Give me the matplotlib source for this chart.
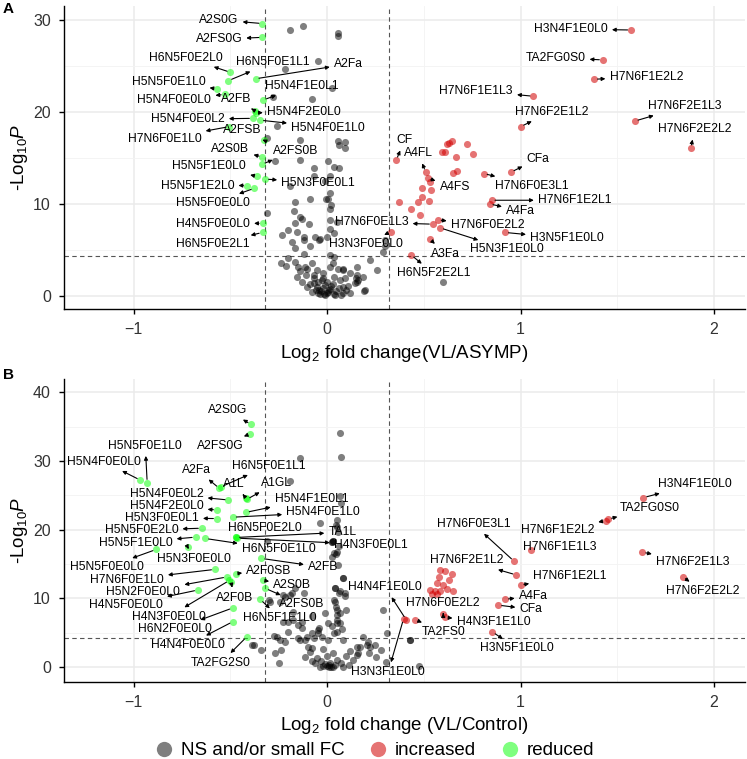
import numpy as np
import matplotlib
matplotlib.use("Agg")
import matplotlib.pyplot as plt
from matplotlib.lines import Line2D

plt.rcParams['font.family'] = ['Liberation Sans', 'DejaVu Sans']
plt.rcParams['mathtext.fontset'] = 'custom'
plt.rcParams['mathtext.rm'] = 'Liberation Sans'
plt.rcParams['mathtext.it'] = 'Liberation Sans:italic'

# ---------------------------------------------------------------- panel A data
# not significant / small fold change
a_ns_x = [-0.19, -0.126, 0.055, 0.058, -0.045, -0.22, 0.024, -0.28, -0.08, -0.26, -0.31, -0.14,
          0.058, 0.093, 0.064, 0.093, -0.27, -0.14, -0.07, 0.007, 0.035, -0.07, 0.016, -0.01,
          -0.19, 0.016, -0.088, -0.005, -0.165, 0.016, 0.02, -0.31, -0.17, -0.13, -0.14, 0.016,
          0.05, -0.093, -0.165, 0.016, 0.033, -0.2, -0.157, -0.12, -0.234, -0.036, -0.002, -0.12,
          -0.062, -0.04, -0.18, -0.088, -0.165, -0.12, 0.016, 0.30, 0.30, 0.29,
          0.03, -0.21, -0.105, -0.07, -0.02, 0.084, 0.15, 0.22, -0.20, -0.165, -0.148, -0.114,
          -0.079, -0.053, -0.019, 0.016, 0.033, 0.067, 0.153, 0.188, 0.145, -0.157, -0.13, -0.07,
          -0.045, -0.01, -0.105, -0.066, -0.041, -0.016, 0.033, 0.082, 0.119, 0.156, 0.193, 0.6,
          -0.03, -0.02, 0.0, 0.01, -0.05, 0.02, -0.01, 0.005, -0.035, 0.045, -0.06, 0.0, 0.03,
          -0.08, 0.06, -0.025, 0.04, -0.045, 0.015, 0.07, -0.09, 0.1, -0.11, 0.11, -0.14, 0.12,
          -0.24, 0.26, 0.084, 0.153, 0.162, 0.093, 0.058, 0.033, 0.084, 0.196, 0.007, 0.064]
a_ns_y = [28.9, 29.3, 28.6, 28.3, 25.5, 24.7, 22.6, 21.6, 21.4, 18.5, 17.2, 17.0,
          16.8, 16.7, 16.4, 16.1, 14.7, 14.8, 13.9, 14.7, 14.05, 13.0, 13.0, 12.5,
          11.9, 11.2, 10.5, 10.5, 10.2, 9.5, 9.9, 9.0, 9.2, 8.4, 8.55, 8.26,
          8.0, 7.8, 7.9, 7.25, 6.8, 7.2, 7.0, 6.1, 6.6, 6.2, 6.45, 6.45,
          6.45, 6.1, 5.9, 5.4, 5.2, 4.6, 4.5, 6.1, 5.4, 4.8,
          3.55, 3.26, 2.9, 2.3, 1.9, 2.9, 2.0, 3.9, 4.1, 3.73, 3.2, 3.2,
          3.55, 2.8, 2.45, 3.2, 2.1, 1.74, 3.2, 2.1, 1.4, 2.1, 1.55, 1.9,
          1.55, 1.2, 1.0, 1.38, 0.65, 0.22, 0.22, 0.36, 0.29, 1.56, 0.58, 1.56,
          0.5, 0.9, 0.3, 0.6, 1.0, 1.1, 0.1, 0.4, 0.2, 0.5, 0.7, 1.5, 1.3,
          0.4, 0.9, 1.7, 0.05, 0.35, 0.8, 0.15, 1.3, 0.7, 2.3, 1.1, 2.7, 2.5,
          3.6, 2.8, 2.83, 2.28, 1.74, 1.92, 2.9, 4.27, 1.0, 0.65, 10.5, 13.9]

# increased, unlabeled
a_inc_x = [0.622, 0.632, 0.648, 0.722, 0.593, 0.61, 0.665, 0.753, 0.67, 0.65, 0.53, 0.49,
           0.536, 0.49, 0.47, 0.525, 0.374, 0.436, 0.48]
a_inc_y = [16.5, 16.6, 16.8, 16.5, 15.6, 15.6, 15.1, 15.4, 13.6, 13.4, 12.4, 11.7,
           11.5, 10.8, 10.2, 10.3, 10.2, 9.5, 8.8]

# increased, labeled
a_up_names = ['H3N4F1E0L0', 'TA2FG0S0', 'H7N6F1E2L2', 'H7N6F1E1L3', 'H7N6F2E1L2', 'H7N6F2E1L3',
              'H7N6F2E2L2', 'CF', 'A4FL', 'A4FS', 'CFa', 'H7N6F0E3L1', 'H7N6F1E2L1', 'A4Fa',
              'H7N6F0E1L3', 'H3N3F0E0L0', 'H7N6F0E2L2', 'H5N3F1E0L0', 'H3N5F1E0L0', 'A3Fa',
              'H6N5F2E2L1']
a_up_x = [1.571, 1.425, 1.38, 1.066, 1.00, 1.59, 1.88, 0.357, 0.51, 0.52, 0.95, 0.81, 0.85, 0.84,
          0.546, 0.33, 0.572, 0.584, 0.92, 0.53, 0.434]
a_up_y = [28.9, 25.65, 23.55, 21.7, 18.4, 19.0, 16.05, 14.75, 13.45, 12.8, 13.45, 13.3, 10.4, 10.0,
          7.8, 7.0, 8.26, 7.4, 6.9, 6.2, 4.46]

# reduced, labeled
a_down_names = ['A2S0G', 'A2FS0G', 'H6N5F0E2L0', 'H6N5F0E1L1', 'A2Fa', 'H5N5F0E1L0', 'H5N4F0E0L0',
                'A2FB', 'H5N4F1E0L1', 'H5N4F2E0L0', 'H5N4F0E0L2', 'H5N4F0E1L0', 'H7N6F0E1L0',
                'A2FSB', 'A2S0B', 'A2FS0B', 'H5N5F1E0L0', 'H5N3F0E0L1', 'H5N5F1E2L0', 'H5N5F0E0L0',
                'H4N5F0E0L0', 'H6N5F0E2L1']
a_down_x = [-0.335, -0.335, -0.50, -0.51, -0.37, -0.57, -0.53, -0.372, -0.33, -0.37, -0.384, -0.346,
            -0.506, -0.325, -0.335, -0.337, -0.363, -0.32, -0.415, -0.376, -0.334, -0.334]
a_down_y = [29.6, 28.1, 24.3, 23.4, 23.6, 22.5, 21.9, 20.1, 21.3, 19.9, 19.3, 19.1,
            18.4, 16.9, 15.1, 14.3, 13.0, 12.7, 12.0, 11.7, 7.9, 6.9]

# label placement (repelled text positions)
a_label_pos = {
    'H3N4F1E0L0': (1.26, 29.0), 'TA2FG0S0': (1.18, 25.9), 'H7N6F1E2L2': (1.65, 23.8),
    'H7N6F1E1L3': (0.77, 22.3), 'H7N6F2E1L2': (1.16, 20.0), 'H7N6F2E1L3': (1.85, 20.6),
    'H7N6F2E2L2': (1.90, 18.1), 'CF': (0.40, 16.9), 'A4FL': (0.47, 15.5), 'A4FS': (0.66, 11.8),
    'CFa': (1.09, 14.9), 'H7N6F0E3L1': (1.06, 12.0), 'H7N6F1E2L1': (1.28, 10.4),
    'A4Fa': (1.0, 9.25), 'H7N6F0E1L3': (0.23, 8.0), 'H3N3F0E0L0': (0.20, 5.6),
    'H7N6F0E2L2': (0.83, 7.7), 'H5N3F1E0L0': (0.93, 5.07), 'H3N5F1E0L0': (1.24, 6.25),
    'A3Fa': (0.61, 4.6), 'H6N5F2E2L1': (0.55, 2.45),
    'A2S0G': (-0.56, 30.0), 'A2FS0G': (-0.56, 27.9), 'H6N5F0E2L0': (-0.73, 25.9),
    'H6N5F0E1L1': (-0.28, 25.4), 'A2Fa': (0.11, 25.2), 'H5N5F0E1L0': (-0.82, 23.3),
    'H5N4F0E0L0': (-0.79, 21.3), 'A2FB': (-0.47, 21.4), 'H5N4F1E0L1': (-0.13, 22.8),
    'H5N4F2E0L0': (-0.12, 20.0), 'H5N4F0E0L2': (-0.72, 19.2), 'H5N4F0E1L0': (0.005, 18.3),
    'H7N6F0E1L0': (-0.84, 17.1), 'A2FSB': (-0.44, 18.0), 'A2S0B': (-0.50, 16.0),
    'A2FS0B': (-0.165, 15.8), 'H5N5F1E0L0': (-0.61, 14.1), 'H5N3F0E0L1': (-0.046, 12.3),
    'H5N5F1E2L0': (-0.67, 12.0), 'H5N5F0E0L0': (-0.59, 10.1), 'H4N5F0E0L0': (-0.59, 7.8),
    'H6N5F0E2L1': (-0.59, 5.6),
}

# ---------------------------------------------------------------- panel B data
b_ns_x = [0.067, 0.072, -0.14, -0.19, 0.067, 0.07, 0.05, 0.047, -0.036, 0.053, 0.058, 0.03,
          0.024, -0.31, 0.064, 0.047, 0.05, 0.024, 0.058, 0.084, 0.04, 0.067, 0.064, 0.093,
          0.033, -0.01, 0.047, 0.067, 0.05, 0.053, 0.007, -0.04, -0.226, -0.30, -0.174, -0.15,
          -0.079, -0.165, -0.217, -0.19, -0.295, 0.29, -0.13, -0.2, 0.31, 0.024, 0.05, 0.076,
          -0.045, -0.027, -0.07, -0.105, -0.26, -0.243, -0.18, -0.12, -0.174, -0.226, -0.13,
          -0.045, 0.007, -0.14, -0.08, 0.033, 0.05, 0.1, 0.17, 0.21, 0.25, 0.153, -0.38, -0.243,
          -0.27, 0.033, 0.084, 0.04, 0.093, 0.04, 0.05, 0.067, 0.22, 0.43, 0.084, 0.153, 0.188,
          -0.386, -0.342, -0.275, -0.238, -0.218, -0.201, -0.152, -0.25, -0.115, -0.09, -0.061,
          -0.036, 0.008, 0.032, 0.081, 0.111, 0.136, 0.161, 0.205, 0.218, 0.254, 0.279, 0.303,
          0.426, 0.476, -0.115, -0.078, -0.02, 0.0, 0.01, -0.01, 0.02, 0.015, -0.03, 0.04, 0.05,
          -0.05, 0.0, 0.03, -0.02, 0.07, -0.08, 0.1, -0.1, 0.12, 0.024, 0.03]
b_ns_y = [34.0, 30.6, 30.4, 27.1, 24.9, 23.9, 21.4, 20.7, 21.0, 20.4, 19.7, 18.3,
          18.2, 18.4, 17.6, 16.4, 16.8, 16.0, 14.85, 12.9, 11.45, 11.0, 10.7, 10.3,
          9.75, 7.9, 8.8, 7.8, 8.3, 6.85, 6.35, 5.6, 10.5, 9.75, 6.85, 6.1,
          7.4, 11.45, 10.2, 10.5, 9.5, 8.3, 5.6, 6.6, 4.9, 5.9, 5.1, 5.5,
          4.9, 4.4, 4.2, 4.4, 4.4, 9.5, 10.7, 10.7, 8.05, 6.6, 6.6,
          5.4, 3.9, 3.9, 2.7, 4.9, 6.35, 8.3, 2.95, 3.7, 3.2, 1.75, 3.2, 3.9,
          2.0, 16.55, 12.9, 11.45, 10.7, 9.5, 7.6, 6.35, 2.95, 3.9, 3.9, 2.95, 4.4,
          3.2, 2.4, 4.5, 2.4, 3.7, 5.1, 4.2, 0.53, 1.5, 2.2, 0.53,
          0.05, 0.05, 0.0, 0.05, 0.29, 1.02, 2.0, 3.2, 2.0, 1.5, 2.5, 0.78,
          3.9, 0.15, 3.9, 4.9, 0.2, 0.1, 0.3, 0.5, 0.05, 0.6, 0.8, 0.3, 1.0,
          1.3, 1.6, 2.0, 2.6, 0.6, 0.9, 1.6, 2.9, 2.3, 18.2, 18.3]

b_inc_x = [0.584, 0.61, 0.644, 0.58, 0.632, 0.567, 0.60, 0.53, 0.558, 0.584, 0.618, 0.653,
           0.54, 0.567]
b_inc_y = [14.1, 14.0, 13.5, 13.1, 12.7, 12.2, 11.9, 11.2, 11.0, 11.0, 11.3, 11.0,
           10.6, 10.6]

b_up_names = ['H3N4F1E0L0', 'TA2FG0S0', 'H7N6F1E2L2', 'H7N6F0E3L1', 'H7N6F1E1L3', 'H7N6F2E1L2',
              'H7N6F2E1L3', 'H7N6F1E2L1', 'H7N6F2E2L2', 'A4Fa', 'CFa', 'H4N4F1E0L0',
              'H3N3F1E0L0', 'TA2FS0', 'H7N6F0E2L2', 'H4N3F1E1L0', 'H3N5F1E0L0']
b_up_x = [1.635, 1.454, 1.44, 0.966, 1.054, 0.977, 1.63, 1.0, 1.838, 0.92, 0.885, 0.408,
          0.395, 0.455, 0.60, 0.61, 0.854]
b_up_y = [24.65, 21.5, 21.3, 15.4, 17.0, 13.4, 16.7, 11.9, 13.15, 9.85, 9.0, 6.9,
          7.0, 6.9, 7.7, 7.2, 5.1]

b_down_names = ['A2S0G', 'A2FS0G', 'H5N4F0E0L0', 'H5N5F0E1L0', 'A2Fa', 'H6N5F0E1L1', 'A1L', 'A1GL',
                'H5N4F0E0L2', 'H5N4F1E0L1', 'H5N4F2E0L0', 'H5N3F0E0L1', 'H5N4F0E1L0',
                'H5N5F0E2L0', 'H6N5F0E2L0', 'TA1L', 'H4N3F0E0L1', 'H5N5F1E0L0', 'H6N5F0E1L0',
                'H5N5F0E0L0', 'H5N3F0E0L0', 'A2FB', 'H7N6F0E1L0', 'A2F0SB', 'A2S0B', 'A2FS0B',
                'H5N2F0E0L0', 'H4N5F0E0L0', 'H4N3F0E0L0', 'A2F0B', 'H6N5F1E1L0', 'H6N2F0E0L0',
                'H4N4F0E0L0', 'TA2FG2S0']
b_down_x = [-0.394, -0.40, -0.966, -0.93, -0.557, -0.55, -0.42, -0.415, -0.51, -0.42, -0.57,
            -0.57, -0.487, -0.648, -0.47, -0.47, -0.465, -0.68, -0.63, -0.884, -0.72, -0.34,
            -0.58, -0.47, -0.33, -0.32, -0.518, -0.668, -0.505, -0.496, -0.346, -0.487, -0.487,
            -0.415]
b_down_y = [35.3, 33.9, 27.2, 26.8, 26.0, 26.2, 24.6, 24.4, 24.3, 22.5, 22.85, 21.6, 21.8, 20.2,
            18.9, 18.85, 18.75, 18.9, 18.7, 17.1, 17.4, 15.8, 14.2, 13.6, 12.6, 11.45, 13.1, 11.2,
            12.6, 12.3, 9.85, 8.6, 6.6, 4.4]

b_label_pos = {
    'H3N4F1E0L0': (1.90, 26.6), 'TA2FG0S0': (1.67, 23.2), 'H7N6F1E2L2': (1.19, 19.9),
    'H7N6F0E3L1': (0.756, 20.8), 'H7N6F1E1L3': (1.204, 17.4), 'H7N6F2E1L2': (0.72, 15.5),
    'H7N6F2E1L3': (1.89, 15.3), 'H7N6F1E2L1': (1.256, 13.3), 'H7N6F2E2L2': (1.94, 11.0),
    'A4Fa': (1.066, 10.3), 'CFa': (1.054, 8.4), 'H4N4F1E0L0': (0.30, 11.6),
    'H3N3F1E0L0': (0.315, -0.8), 'TA2FS0': (0.60, 5.1), 'H7N6F0E2L2': (0.60, 9.3),
    'H4N3F1E1L0': (0.86, 6.6), 'H3N5F1E0L0': (0.983, 2.7),
    'A2S0G': (-0.515, 37.4), 'A2FS0G': (-0.55, 32.2), 'H5N4F0E0L0': (-1.156, 29.9),
    'H5N5F0E1L0': (-0.94, 32.2), 'A2Fa': (-0.673, 28.7), 'H6N5F0E1L1': (-0.30, 29.3),
    'A1L': (-0.48, 26.6), 'A1GL': (-0.26, 26.8), 'H5N4F0E0L2': (-0.83, 25.2),
    'H5N4F1E0L1': (-0.08, 24.5), 'H5N4F2E0L0': (-0.83, 23.4), 'H5N3F0E0L1': (-0.854, 21.7),
    'H5N4F0E1L0': (-0.02, 22.5), 'H5N5F0E2L0': (-0.96, 19.9), 'H6N5F0E2L0': (-0.32, 20.2),
    'TA1L': (0.08, 19.6), 'H4N3F0E0L1': (0.226, 17.8), 'H5N5F1E0L0': (-0.99, 18.1),
    'H6N5F0E1L0': (-0.25, 17.1), 'H5N5F0E0L0': (-1.14, 14.5), 'H5N3F0E0L0': (-0.69, 15.7),
    'A2FB': (-0.02, 14.5), 'H7N6F0E1L0': (-1.035, 12.7), 'A2F0SB': (-0.30, 14.0),
    'A2S0B': (-0.18, 11.9), 'A2FS0B': (-0.13, 9.1), 'H5N2F0E0L0': (-0.95, 10.9),
    'H4N5F0E0L0': (-1.04, 9.0), 'H4N3F0E0L0': (-0.82, 7.3), 'A2F0B': (-0.48, 10.1),
    'H6N5F1E1L0': (-0.243, 7.1), 'H6N2F0E0L0': (-0.785, 5.5), 'H4N4F0E0L0': (-0.72, 3.2),
    'TA2FG2S0': (-0.55, 0.6),
}
b_no_arrow = {'H7N6F1E1L3', 'H6N5F0E2L0'}

FC_CUT = 0.32
P_CUT_A = 4.3
P_CUT_B = 4.2

GRAY = (0, 0, 0, 0.5)
RED = (0.82, 0.0, 0.0, 0.55)
GREEN = (0.0, 1.0, 0.0, 0.5)
MS = 26


def draw_panel(ax, ns_x, ns_y, inc_x, inc_y, up_n, up_x, up_y, dn_n, dn_x, dn_y,
               lab_pos, p_cut, ylim, yticks, xlabel, no_arrow=()):
    ax.set_xticks([-1, 0, 1, 2])
    ax.set_xticklabels(['\u22121', '0', '1', '2'])
    ax.set_xticks([-0.5, 0.5, 1.5], minor=True)
    ax.set_yticks(yticks)
    ax.set_yticks([t + 5 for t in yticks], minor=True)
    # limits after ticks, otherwise minor ticks stretch the view
    ax.set_xlim(-1.36, 2.16)
    ax.set_ylim(*ylim)
    ax.grid(True, which='major', color='#EBEBEB', lw=1.1, zorder=0)
    ax.grid(True, which='minor', color='#F3F3F3', lw=0.6, zorder=0)
    ax.set_axisbelow(True)
    for s in ('top', 'right'):
        ax.spines[s].set_visible(False)
    for s in ('left', 'bottom'):
        ax.spines[s].set_linewidth(1.0)
    ax.tick_params(which='major', length=3.5, width=1.0, labelsize=11.5, pad=6,
                   labelcolor='#333333')
    ax.tick_params(which='minor', length=0)

    for xv in (-FC_CUT, FC_CUT):
        ax.axvline(xv, color='#555555', lw=0.8, ls=(0, (4, 3)), zorder=1)
    ax.axhline(p_cut, color='#555555', lw=0.8, ls=(0, (4, 3)), zorder=1)

    ax.scatter(ns_x, ns_y, s=MS, color=GRAY, lw=0, zorder=2)
    ax.scatter(list(inc_x) + list(up_x), list(inc_y) + list(up_y), s=MS, color=RED, lw=0, zorder=2)
    ax.scatter(dn_x, dn_y, s=MS, color=GREEN, lw=0, zorder=2)

    for names, xs, ys in ((up_n, up_x, up_y), (dn_n, dn_x, dn_y)):
        for n, x, y in zip(names, xs, ys):
            lx, ly = lab_pos[n]
            if n in no_arrow:
                ax.text(lx, ly, n, fontsize=8.7, ha='center', va='center', zorder=4)
                continue
            ax.annotate(n, xy=(x, y), xytext=(lx, ly), fontsize=8.7, ha='center', va='center',
                        zorder=4,
                        arrowprops=dict(arrowstyle='<|-', color='black', lw=0.8,
                                        mutation_scale=5.5, shrinkA=1, shrinkB=2.5))

    ax.set_xlabel(xlabel, fontsize=13.5, labelpad=4)
    ax.set_ylabel(r'-Log$_{10}$$\it{P}$', fontsize=13.5, labelpad=2)


fig = plt.figure(figsize=(7.47, 7.59), dpi=100)
axA = fig.add_axes([0.0857, 0.5925, 0.9116, 0.3995])
axB = fig.add_axes([0.0857, 0.1019, 0.9116, 0.3988])

draw_panel(axA, a_ns_x, a_ns_y, a_inc_x, a_inc_y, a_up_names, a_up_x, a_up_y,
           a_down_names, a_down_x, a_down_y, a_label_pos, P_CUT_A, (-1.45, 31.5),
           [0, 10, 20, 30], r'Log$_2$ fold change(VL/ASYMP)')
draw_panel(axB, b_ns_x, b_ns_y, b_inc_x, b_inc_y, b_up_names, b_up_x, b_up_y,
           b_down_names, b_down_x, b_down_y, b_label_pos, P_CUT_B, (-2.14, 41.92),
           [0, 10, 20, 30, 40], r'Log$_2$ fold change (VL/Control)', no_arrow=b_no_arrow)

fig.text(0.004, 0.988, 'A', fontsize=11, fontweight='bold', va='center')
fig.text(0.004, 0.506, 'B', fontsize=11, fontweight='bold', va='center')

handles = [Line2D([], [], marker='o', ls='', ms=11, markeredgewidth=0, color=c)
           for c in (GRAY, RED, GREEN)]
fig.legend(handles, ['NS and/or small FC', 'increased', 'reduced'], loc='center',
           bbox_to_anchor=(0.5, 0.011), ncol=3, frameon=False, fontsize=13.5,
           handletextpad=0.3, columnspacing=1.2, handlelength=1.2)

fig.savefig('out.png', dpi=100)
